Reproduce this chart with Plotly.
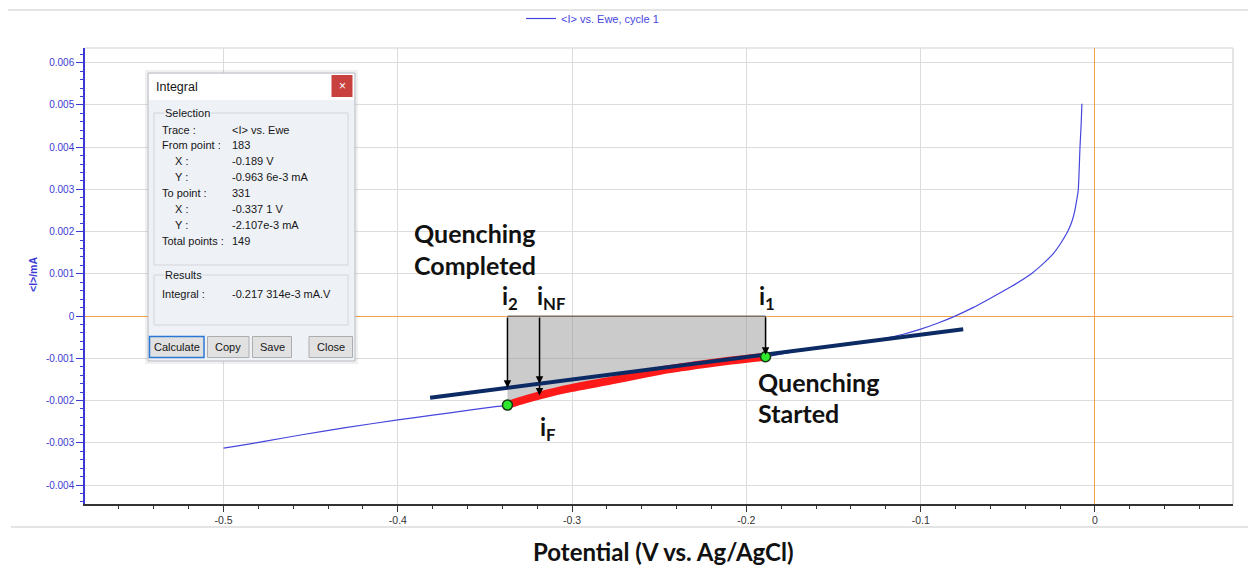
import numpy as np
import plotly.graph_objects as go

# ---- cathodic sweep, cycle 1 (Ewe in V, <I> in mA) ----
potential_V = [
    -0.500, -0.490, -0.475, -0.455, -0.430, -0.400, -0.380, -0.360, -0.345,
    -0.3371, -0.330, -0.318, -0.300, -0.278, -0.260, -0.245, -0.225, -0.210,
    -0.196, -0.189, -0.175, -0.160, -0.145, -0.130, -0.120, -0.110, -0.100,
    -0.090, -0.0803, -0.070, -0.0602, -0.048, -0.0363, -0.030, -0.0239, -0.020,
    -0.0153, -0.013, -0.0115, -0.0105, -0.0096, -0.0090, -0.0086, -0.0079, -0.0075,
]
current_mA = [
    -0.003128, -0.003060, -0.002955, -0.002810, -0.002640, -0.002460, -0.002345,
    -0.002235, -0.002150, -0.002107, -0.002010, -0.001870, -0.001700, -0.001530,
    -0.001380, -0.001260, -0.001140, -0.001060, -0.000995, -0.0009636, -0.000860,
    -0.000770, -0.000685, -0.000595, -0.000520, -0.000430, -0.000310, -0.000165,
    0.0, 0.000200, 0.000418, 0.000700, 0.001010, 0.001230, 0.001480, 0.001700,
    0.002030, 0.002270, 0.002510, 0.002740, 0.002980, 0.003530, 0.004000, 0.004560,
    0.005030,
]

# integration window (points 183 -> 331)
sel_from_V = -0.189
sel_to_V = -0.3371

# baseline drawn through the start of quenching
baseline_V = [-0.3815, -0.0756]
baseline_mA = [-0.001932, -0.000313]

# potentials of the marked currents
i2_V = -0.3371
iNF_V = -0.3187
i1_V = -0.189

# axis ticks
x_ticks = [-0.5, -0.4, -0.3, -0.2, -0.1, 0.0]
x_labels = ["-0.5", "-0.4", "-0.3", "-0.2", "-0.1", "0"]
y_ticks = [-0.004, -0.003, -0.002, -0.001, 0.0, 0.001, 0.002, 0.003, 0.004, 0.005, 0.006]
y_labels = ["-0.004", "-0.003", "-0.002", "-0.001", "0", "0.001", "0.002",
            "0.003", "0.004", "0.005", "0.006"]

E = np.array(potential_V)
I = np.array(current_mA)
mask = (E >= sel_to_V - 1e-9) & (E <= sel_from_V + 1e-9)
sel_E = E[mask]
sel_I = I[mask]


def baseline_at(v):
    return float(np.interp(v, baseline_V, baseline_mA))


def curve_at(v):
    return float(np.interp(v, E, I))


W, H = 1248, 567
L, R, T, B = 85, 1233, 48, 504


def px(x):
    return (x - L) / (R - L)


def py(y):
    return (B - y) / (B - T)


BLUE = "#4646de"
AXBLUE = "#3b3bd4"
fig = go.Figure()

# shaded integral area between the selected current and zero
fig.add_trace(go.Scatter(
    x=list(sel_E) + [sel_from_V, sel_to_V],
    y=list(sel_I) + [0.0, 0.0],
    fill="toself", fillcolor="rgba(140,140,140,0.45)",
    line=dict(color="#505050", width=1), mode="lines",
    showlegend=False, hoverinfo="skip"))

fig.add_trace(go.Scatter(
    x=potential_V, y=current_mA, mode="lines",
    name="&lt;I&gt; vs. Ewe, cycle 1",
    line=dict(color=BLUE, width=1.2, shape="spline", smoothing=0.6)))

fig.add_trace(go.Scatter(
    x=sel_E, y=sel_I, mode="lines", showlegend=False,
    line=dict(color="#ff1a1a", width=8, shape="spline", smoothing=0.6)))

fig.add_trace(go.Scatter(
    x=baseline_V, y=baseline_mA, mode="lines", showlegend=False,
    line=dict(color="#0c2a63", width=4)))

fig.add_trace(go.Scatter(
    x=[sel_to_V, sel_from_V], y=[curve_at(sel_to_V), curve_at(sel_from_V)],
    mode="markers", showlegend=False,
    marker=dict(color="#2ee82e", size=10, line=dict(color="#153b15", width=1.5))))

ann = []
shapes = []

# arrows from zero current down to the marked currents
arrow_defs = [
    (i2_V, 0.0, baseline_at(i2_V)),
    (iNF_V, 0.0, baseline_at(iNF_V)),
    (iNF_V, baseline_at(iNF_V), curve_at(iNF_V)),
    (i1_V, 0.0, baseline_at(i1_V)),
]
for xv, y0, y1 in arrow_defs:
    ann.append(dict(x=xv, y=y1, ax=xv, ay=y0, xref="x", yref="y", axref="x", ayref="y",
                    text="", showarrow=True, arrowhead=2, arrowsize=1, arrowwidth=1.5,
                    arrowcolor="#000000", standoff=0))

LAB = dict(family="Lato, Noto Sans, sans-serif", size=25, color="#111111", weight="bold")


def label(text, xp, yp, anchor="left", font=LAB):
    ann.append(dict(text=text, x=px(xp), y=py(yp), xref="paper", yref="paper",
                    showarrow=False, xanchor=anchor, yanchor="middle", font=font))


label("Quenching", 412, 233)
label("Completed", 412, 265)
label("Quenching", 756, 382)
label("Started", 756, 413)
label("i<sub>2</sub>", 510, 297, "center", dict(LAB, size=24))
label("i<sub>NF</sub>", 551, 297, "center", dict(LAB, size=24))
label("i<sub>1</sub>", 767, 297, "center", dict(LAB, size=24))
label("i<sub>F</sub>", 548, 428, "center", dict(LAB, size=24))

label("Potential (V vs. Ag/AgCl)", 663, 551, "center",
      dict(family="Lato, Noto Sans, sans-serif", size=24, color="#111111", weight="bold"))

ann.append(dict(text="&lt;I&gt;/mA", x=px(33), y=py(275), xref="paper", yref="paper",
                showarrow=False, textangle=-90, xanchor="center", yanchor="middle",
                font=dict(family="Liberation Sans, Arial, sans-serif", size=10.5,
                          color=AXBLUE, weight="bold")))


def rect(x0, y0, x1, y1, fill=None, line=None, lw=1):
    shapes.append(dict(type="rect", xref="paper", yref="paper",
                       x0=px(x0), x1=px(x1), y0=py(y0), y1=py(y1),
                       fillcolor=fill if fill else "rgba(0,0,0,0)",
                       line=dict(color=line if line else "rgba(0,0,0,0)", width=lw if line else 0),
                       layer="above"))


def hline(x0, x1, y, color):
    shapes.append(dict(type="line", xref="paper", yref="paper",
                       x0=px(x0), x1=px(x1), y0=py(y), y1=py(y),
                       line=dict(color=color, width=1), layer="below"))


# outer frame lines and the plot-area border
hline(8, 1248, 10, "#c9c9c9")
hline(11, 1248, 527, "#c9c9c9")
shapes.append(dict(type="line", xref="paper", yref="paper", x0=0, x1=1, y0=1, y1=1,
                   line=dict(color="#d2d2d2", width=1.2), layer="below"))
shapes.append(dict(type="line", xref="paper", yref="paper", x0=1, x1=1, y0=0, y1=1,
                   line=dict(color="#d2d2d2", width=1.2), layer="below"))

# ---- Integral dialog ----
BODY = "#eef1f6"
DLG = dict(family="Liberation Sans, Arial, sans-serif", size=11, color="#161616")
rect(145, 70, 358, 364, fill="rgba(0,0,0,0.06)")
rect(148, 73, 355, 361, fill=BODY, line="#b9bcc2")
rect(149, 74, 354, 100, fill="#ffffff")
rect(331.5, 75, 352.5, 97, fill="#c8413f")
rect(154, 113, 348, 265, line="#d3d6dc")
rect(154, 275, 348, 325, line="#d3d6dc")


def dtext(text, xp, yp, anchor="left", font=DLG, bg=None):
    d = dict(text=text, x=px(xp), y=py(yp), xref="paper", yref="paper", showarrow=False,
             xanchor=anchor, yanchor="middle", font=font, borderpad=0)
    if bg:
        d["bgcolor"] = bg
    ann.append(d)


dtext("Integral", 155, 87, font=dict(DLG, size=12.5))
dtext("×", 342, 86, "center", font=dict(family="Liberation Sans, Arial", size=12, color="#ffffff"))
dtext("Selection", 164, 113, bg=BODY)
dtext("Results", 164, 275, bg=BODY)

rows = [
    ("Trace :", 161, "&lt;I&gt; vs. Ewe", 129.5),
    ("From point :", 161, "183", 145),
    ("X :", 174, "-0.189 V", 160.5),
    ("Y :", 174, "-0.963 6e-3 mA", 176.5),
    ("To point :", 161, "331", 192.5),
    ("X :", 174, "-0.337 1 V", 208.5),
    ("Y :", 174, "-2.107e-3 mA", 224.5),
    ("Total points :", 161, "149", 240.5),
    ("Integral :", 161, "-0.217 314e-3 mA.V", 294),
]
for name, xn, val, yy in rows:
    dtext(name, xn, yy)
    dtext(val, 231, yy)

buttons = [("Calculate", 149.5, 204), ("Copy", 207.5, 249), ("Save", 252.5, 291.5),
           ("Close", 309, 352.5)]
for text, x0, x1 in buttons:
    rect(x0, 336.5, x1, 357.5, fill="#e1e1e1", line="#2b78d4" if text == "Calculate" else "#adadad",
         lw=1.5 if text == "Calculate" else 1)
    dtext(text, (x0 + x1) / 2, 347, "center")

fig.update_layout(
    width=W, height=H,
    margin=dict(l=L, r=W - R, t=T, b=H - B, autoexpand=False),
    paper_bgcolor="white", plot_bgcolor="white",
    showlegend=True,
    legend=dict(x=px(521), y=py(4), xanchor="left", yanchor="top", orientation="h",
                font=dict(family="Liberation Sans, Arial, sans-serif", size=11, color=BLUE),
                bgcolor="rgba(0,0,0,0)"),
    annotations=ann, shapes=shapes,
    xaxis=dict(range=[-0.5795, 0.0792], tickmode="array", tickvals=x_ticks, ticktext=x_labels,
               ticks="outside", ticklen=6, tickcolor="#333333", showline=True, linecolor="#333333",
               linewidth=1.5, showgrid=True, gridcolor="#dcdcdc", gridwidth=1,
               zeroline=True, zerolinecolor="#f4a04a", zerolinewidth=1.2,
               tickfont=dict(family="Liberation Sans, Arial, sans-serif", size=10.5, color="#333333"),
               minor=dict(tickmode="linear", tick0=0, dtick=0.02, ticks="outside", ticklen=3,
                          tickcolor="#333333", showgrid=False)),
    yaxis=dict(range=[-0.00445, 0.006348], tickmode="array", tickvals=y_ticks, ticktext=y_labels,
               ticks="outside", ticklen=7, tickcolor=AXBLUE, showline=True, linecolor=AXBLUE,
               linewidth=1.5, showgrid=True, gridcolor="#dcdcdc", gridwidth=1,
               zeroline=True, zerolinecolor="#f4a04a", zerolinewidth=1.2,
               tickfont=dict(family="Liberation Sans, Arial, sans-serif", size=10, color=AXBLUE),
               minor=dict(tickmode="linear", tick0=0, dtick=0.0002, ticks="outside", ticklen=3,
                          tickcolor=AXBLUE, showgrid=False)),
)

fig.write_html("out.html")
